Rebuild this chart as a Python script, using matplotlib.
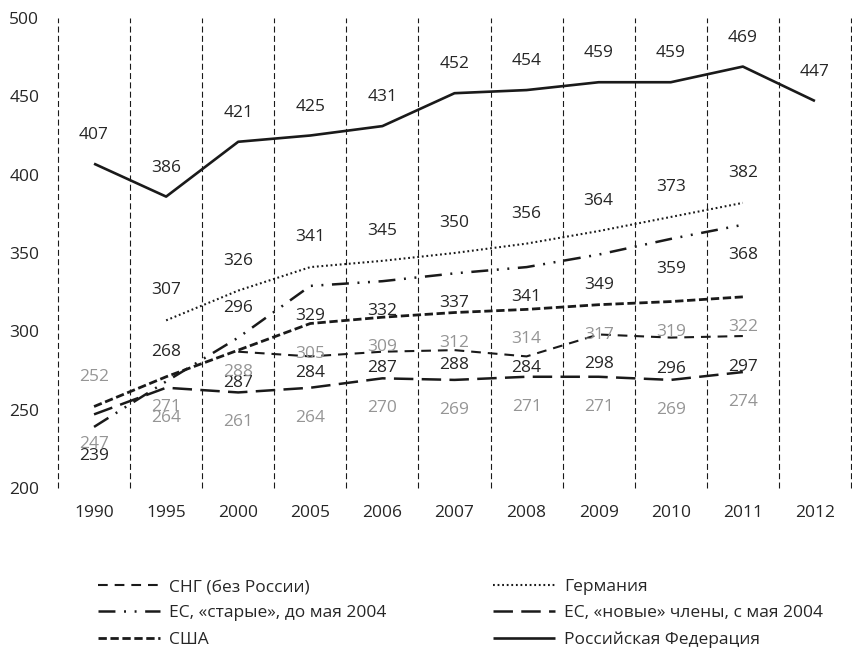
import numpy as np
import matplotlib.pyplot as plt

plt.rcParams['font.family'] = ['Open Sans', 'DejaVu Sans']
plt.rcParams['lines.scale_dashes'] = False

# data
years = ['1990', '1995', '2000', '2005', '2006', '2007', '2008', '2009', '2010', '2011', '2012']
nan = np.nan
russia = [407, 386, 421, 425, 431, 452, 454, 459, 459, 469, 447]
germany = [nan, 307, 326, 341, 345, 350, 356, 364, 373, 382, nan]
eu_old = [239, 268, 296, 329, 332, 337, 341, 349, 359, 368, nan]
eu_new = [247, 264, 261, 264, 270, 269, 271, 271, 269, 274, nan]
usa = [252, 271, 288, 305, 309, 312, 314, 317, 319, 322, nan]
cis = [nan, nan, 287, 284, 287, 288, 284, 298, 296, 297, nan]

# label shifts in pixels (+ is below the point), one per year
off_russia = [-29] * 11
off_germany = [0, -30, -30, -30, -30, -30, -30, -30, -30, -30, 0]
off_eu_old = [29, -29, -30, 30, 30, 30, 30, 30, 30, 30, 0]
off_eu_new = [30] * 11
off_usa = [-30, 30, 22, 30, 30, 30, 30, 30, 30, 30, 0]
off_cis = [0, 0, 31, 17, 16, 15, 12, 30, 31, 31, 0]

BLACK = '#262626'
GREY = '#959595'
FS = 12.5

# name, values, label shifts, label colour, line width, dash style
left_col = [
    ('СНГ (без России)', cis, off_cis, BLACK, 1.5, (0, (7.0, 5.0))),
    ('ЕС, «старые», до мая 2004', eu_old, off_eu_old, BLACK, 1.8, (0, (12.2, 6.2, 1.4, 6.2, 1.4, 6.2))),
    ('США', usa, off_usa, GREY, 2.0, (0, (6.0, 2.6))),
]
right_col = [
    ('Германия', germany, off_germany, BLACK, 1.5, (0, (1.3, 2.0))),
    ('ЕС, «новые» члены, с мая 2004', eu_new, off_eu_new, GREY, 1.8, (0, (14.0, 6.0))),
    ('Российская Федерация', russia, off_russia, BLACK, 1.9, '-'),
]

fig = plt.figure(figsize=(8.53, 6.51), dpi=100)
ax = fig.add_axes([58 / 853, 1 - 488 / 651, 793 / 853, 470 / 651])

x = np.arange(len(years))
handles = []
for name, vals, offs, lab_col, lw, ls in left_col + right_col:
    h, = ax.plot(x, vals, color='#1a1a1a', linewidth=lw, linestyle=ls,
                 solid_capstyle='butt', dash_capstyle='butt', label=name)
    handles.append(h)
    for xi, v, o in zip(x, vals, offs):
        if np.isnan(v):
            continue
        ax.annotate(str(int(v)), (xi, v), xytext=(0, -o * 0.72),
                    textcoords='offset points', ha='center', va='center',
                    fontsize=FS, color=lab_col)

ax.set_xlim(-0.5, len(years) - 0.5)
ax.set_ylim(200, 500)
ax.set_yticks([200, 250, 300, 350, 400, 450, 500])
ax.set_xticks(x)
ax.set_xticklabels(years)
ax.tick_params(length=0, labelsize=FS, labelcolor=BLACK)
ax.tick_params(axis='y', pad=13.5)
ax.tick_params(axis='x', pad=12)
for s in ax.spines.values():
    s.set_visible(False)

ax.vlines(np.arange(-0.5, len(years)), 200, 500, colors='#1a1a1a',
          linewidth=0.8, linestyles=[(0, (4.3, 2.4))], clip_on=False)

# legend as two columns placed separately
leg_kw = dict(loc='upper left', frameon=False, fontsize=FS, handlelength=3.55,
              handletextpad=0.55, labelspacing=0.58, borderpad=0,
              borderaxespad=0, labelcolor=BLACK)
fig.legend(handles[:3], [s[0] for s in left_col],
           bbox_to_anchor=(98 / 853, 1 - 579 / 651), **leg_kw)
fig.legend(handles[3:], [s[0] for s in right_col],
           bbox_to_anchor=(493 / 853, 1 - 579 / 651), **leg_kw)

fig.savefig('out.png', dpi=100)
